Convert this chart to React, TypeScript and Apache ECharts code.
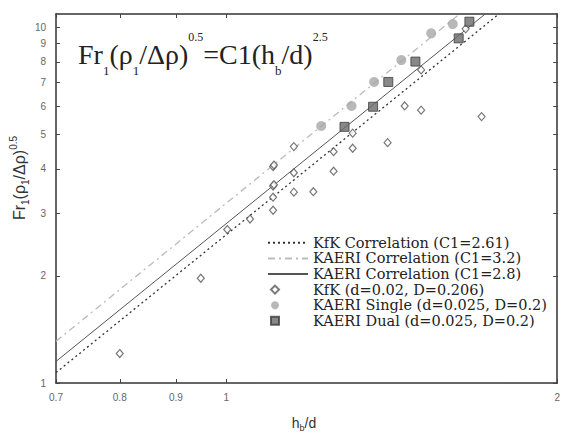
import React, { useEffect, useRef } from 'react';
import * as echarts from 'echarts';

// ---- axis ranges and tick values ----
const xRange = [0.7, 2];
const yRange = [1, 10.9];
const xTickValues = [0.7, 0.8, 0.9, 1, 2];
const yTickValues = [1, 2, 3, 4, 5, 6, 7, 8, 9, 10];

// ---- series names ----
const seriesNames = [
  'KfK Correlation (C1=2.61)',
  'KAERI Correlation (C1=3.2)',
  'KAERI Correlation (C1=2.8)',
  'KfK (d=0.02, D=0.206)',
  'KAERI Single (d=0.025, D=0.2)',
  'KAERI Dual (d=0.025, D=0.2)',
];

// ---- correlation lines (end points read where they meet the frame) ----
const kfkCorrelation = [[0.7, 1.07], [1.77, 10.9]];
const kaeriCorrelation32 = [[0.7, 1.31], [1.63, 10.9]];
const kaeriCorrelation28 = [[0.7, 1.15], [1.72, 10.9]];

// ---- measured points ----
const kfkData = [
  [1.651, 9.9], [1.504, 7.59], [1.453, 6.01], [1.504, 5.85], [1.707, 5.61],
  [1.303, 5.04], [1.303, 4.57], [1.402, 4.74], [1.152, 4.62], [1.252, 4.47],
  [1.103, 4.06], [1.105, 4.1], [1.152, 3.9], [1.252, 3.94], [1.103, 3.58],
  [1.105, 3.61], [1.152, 3.44], [1.2, 3.45], [1.103, 3.33], [1.103, 3.06],
  [1.051, 2.89], [1.002, 2.7], [0.948, 1.97], [0.8, 1.21],
];
const kaeriSingle = [
  [1.607, 10.21], [1.536, 9.62], [1.443, 8.09], [1.363, 7.02], [1.3, 6.01], [1.22, 5.28],
];
const kaeriDual = [
  [1.664, 10.37], [1.627, 9.31], [1.486, 8.01], [1.404, 7.02], [1.36, 5.98], [1.281, 5.25],
];

const serif = "'Liberation Serif', 'Times New Roman', serif";
const legendSerif = "'DejaVu Serif', serif";
const sans = "'Liberation Sans', Arial, sans-serif";
const fmt = (v: number) => String(+Number(v).toFixed(2));

export default function App() {
  const ref = useRef<HTMLDivElement>(null);
  useEffect(() => {
    if (!ref.current) return;
    const chart = echarts.init(ref.current, null, { renderer: 'svg' });
    const axisLine = { show: true, lineStyle: { color: '#333', width: 1.5 } };
    const mkX = (pos: 'bottom' | 'top', labels: boolean) => ({
      type: 'log', logBase: 10, min: xRange[0], max: xRange[1], position: pos,
      axisLine,
      axisTick: { show: true, inside: true, length: 4, customValues: xTickValues, lineStyle: { color: '#444' } },
      axisLabel: labels
        ? { show: true, customValues: xTickValues, margin: 9, fontSize: 10, color: '#666', fontFamily: sans, formatter: fmt }
        : { show: false },
      splitLine: { show: false }, minorTick: { show: false }, minorSplitLine: { show: false },
    });
    const mkY = (pos: 'left' | 'right', labels: boolean) => ({
      type: 'log', logBase: 10, min: yRange[0], max: yRange[1], position: pos,
      axisLine,
      axisTick: { show: true, inside: true, length: 4, customValues: yTickValues, lineStyle: { color: '#444' } },
      axisLabel: labels
        ? { show: true, customValues: yTickValues, margin: 10, fontSize: 10, color: '#666', fontFamily: sans, formatter: fmt }
        : { show: false },
      splitLine: { show: false }, minorTick: { show: false }, minorSplitLine: { show: false },
    });
    const legendText = { fontFamily: legendSerif, fontSize: 14.5, color: '#222', lineHeight: 15.6 };
    chart.setOption({
      animation: false,
      backgroundColor: '#fff',
      grid: { left: 56, right: 3, top: 14, bottom: 52 },
      xAxis: [mkX('bottom', true), mkX('top', false)],
      yAxis: [mkY('left', true), mkY('right', false)],
      legend: [
        {
          data: seriesNames.slice(0, 3), orient: 'vertical', left: 267, top: 235,
          itemWidth: 40, itemHeight: 10, itemGap: 0, padding: 0,
          itemStyle: { opacity: 0 }, textStyle: legendText,
        },
        {
          data: seriesNames.slice(3), orient: 'vertical', left: 270, top: 281.8,
          itemWidth: 8, itemHeight: 8, itemGap: 0, padding: 0,
          formatter: (n: string) => '{p|}' + n,
          textStyle: { ...legendText, rich: { p: { width: 29 } } },
        },
      ],
      graphic: [
        {
          type: 'text', left: 78, top: 31,
          style: {
            text: '{m|Fr}{sub|1}{m|(ρ}{sub|1}{m|/Δρ)}{sup|0.5}{m|=C1(h}{sub|b}{m|/d)}{sup|2.5}',
            fill: '#222',
            rich: {
              m: { fontFamily: serif, fontSize: 28, lineHeight: 46, fill: '#222' },
              sup: { fontFamily: serif, fontSize: 12, lineHeight: 12, verticalAlign: 'top', fill: '#222' },
              sub: { fontFamily: serif, fontSize: 13, lineHeight: 18, verticalAlign: 'bottom', fill: '#222' },
            },
          },
        },
        {
          type: 'text', x: 19, y: 178, rotation: Math.PI / 2,
          style: {
            text: '{m|Fr}{sub|1}{m|(ρ}{sub|1}{m|/Δρ)}{sup|0.5}',
            align: 'center', verticalAlign: 'middle', fill: '#333',
            rich: {
              m: { fontFamily: sans, fontSize: 16, lineHeight: 22, fill: '#333' },
              sup: { fontFamily: sans, fontSize: 10, lineHeight: 10, verticalAlign: 'top', fill: '#333' },
              sub: { fontFamily: sans, fontSize: 10, lineHeight: 10, verticalAlign: 'bottom', fill: '#333' },
            },
          },
        },
        {
          type: 'text', x: 304, y: 423,
          style: {
            text: '{m|h}{sub|b}{m|/d}',
            align: 'center', verticalAlign: 'middle', fill: '#333',
            rich: {
              m: { fontFamily: sans, fontSize: 14, lineHeight: 18, fill: '#333' },
              sub: { fontFamily: sans, fontSize: 9, lineHeight: 9, verticalAlign: 'bottom', fill: '#333' },
            },
          },
        },
      ],
      series: [
        {
          name: seriesNames[0], type: 'line', data: kfkCorrelation, symbol: 'none',
          lineStyle: { type: [2, 3], color: '#333', width: 1.3 }, z: 2,
        },
        {
          name: seriesNames[1], type: 'line', data: kaeriCorrelation32, symbol: 'none',
          lineStyle: { type: [7, 4, 2, 4], color: '#bbb', width: 1.3 }, z: 2,
        },
        {
          name: seriesNames[2], type: 'line', data: kaeriCorrelation28, symbol: 'none',
          lineStyle: { type: 'solid', color: '#555', width: 1 }, z: 2,
        },
        {
          name: seriesNames[3], type: 'scatter', data: kfkData, symbol: 'diamond', symbolSize: [7, 8],
          itemStyle: { color: '#fff', borderColor: '#555', borderWidth: 1.2 }, z: 3,
        },
        {
          name: seriesNames[4], type: 'scatter', data: kaeriSingle, symbol: 'circle', symbolSize: 10,
          itemStyle: { color: '#a6a6a6' }, z: 3,
        },
        {
          name: seriesNames[5], type: 'scatter', data: kaeriDual, symbol: 'rect', symbolSize: 9,
          itemStyle: { color: '#6a6a6a', borderColor: '#3d3d3d', borderWidth: 1 }, z: 3,
        },
      ],
    });
    return () => chart.dispose();
  }, []);
  return <div ref={ref} style={{ position: 'fixed', left: 0, top: 0, width: 563, height: 435 }} />;
}
